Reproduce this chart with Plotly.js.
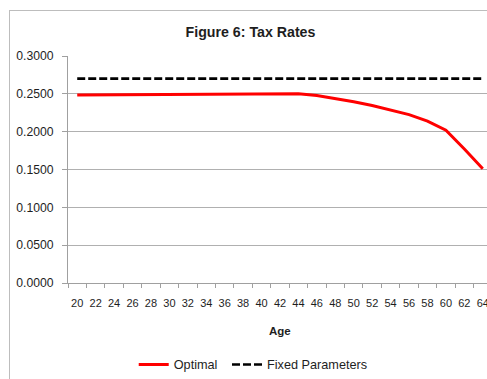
<!DOCTYPE html>
<html>
<head>
<meta charset="utf-8">
<script src="https://cdn.plot.ly/plotly-3.0.1.min.js"></script>
<style>
  html, body { margin: 0; padding: 0; background: #fff; overflow: hidden; width: 487px; height: 379px; }
  #chart {
    position: absolute; left: 9px; top: 10px;
    width: 500px; height: 390px;
    border: 1px solid #bdbdbd;
  }
</style>
</head>
<body>
<div id="chart"></div>
<script>
// Age categories (every second year)
const ages = ['20','22','24','26','28','30','32','34','36','38','40','42','44',
              '46','48','50','52','54','56','58','60','62','64'];

// Optimal tax rate by age
const optimal = [0.2485,0.2487,0.2489,0.2490,0.2492,0.2493,0.2494,0.2495,0.2496,
                 0.2497,0.2498,0.2499,0.2500,0.2478,0.2440,0.2395,0.2345,0.2290,
                 0.2225,0.2140,0.2020,0.1770,0.1510];

// Tax rate under fixed parameters
const fixedParams = [0.27,0.27,0.27,0.27,0.27,0.27,0.27,0.27,0.27,0.27,0.27,0.27,
                     0.27,0.27,0.27,0.27,0.27,0.27,0.27,0.27,0.27,0.27,0.27];

const FONT = '"Liberation Sans", Arial, sans-serif';
const TXT = '#1e1e1e';

const traces = [
  {
    x: ages, y: optimal, name: 'Optimal', type: 'scatter', mode: 'lines',
    line: { color: '#ff0000', width: 3 },
    legend: 'legend'
  },
  {
    x: ages, y: fixedParams, name: 'Fixed Parameters', type: 'scatter', mode: 'lines',
    line: { color: '#000000', width: 2.7, dash: '8px,3px' },
    legend: 'legend2'
  }
];

// shared legend styling; each series gets its own legend box
const legendStyle = {
  orientation: 'h', y: -0.36, yanchor: 'middle', xanchor: 'left',
  font: { family: FONT, size: 12.7, color: TXT },
  bgcolor: 'rgba(0,0,0,0)', itemwidth: 30
};

const layout = {
  width: 500, height: 390,
  margin: { l: 58, r: 18, t: 45, b: 118 },
  paper_bgcolor: '#ffffff', plot_bgcolor: '#ffffff',
  font: { family: FONT, color: TXT, size: 11 },
  title: {
    text: '<b>Figure 6: Tax Rates</b>',
    font: { family: FONT, size: 14.2, color: TXT },
    xref: 'container', x: 0.481, xanchor: 'center',
    yref: 'container', y: 0.947, yanchor: 'middle'
  },
  xaxis: {
    type: 'category',
    range: [-0.5, ages.length - 0.5],
    tickson: 'boundaries',
    tickangle: 0,
    ticks: 'outside', ticklen: 4, tickcolor: '#a0a0a0', tickwidth: 1,
    showgrid: false,
    showline: true, linecolor: '#a0a0a0', linewidth: 1,
    tickfont: { family: FONT, size: 11, color: TXT },
    ticklabelstandoff: 10,
    fixedrange: true
  },
  yaxis: {
    range: [0, 0.3],
    dtick: 0.05, tick0: 0,
    tickformat: '.4f',
    ticks: 'outside', ticklen: 5, tickcolor: '#a0a0a0', tickwidth: 1,
    showgrid: true, gridcolor: '#b0b0b0', gridwidth: 1,
    showline: true, linecolor: '#a0a0a0', linewidth: 1,
    zeroline: false,
    tickfont: { family: FONT, size: 12.2, color: TXT },
    ticklabelstandoff: 6,
    fixedrange: true
  },
  annotations: [
    {
      text: '<b>Age</b>', xref: 'paper', yref: 'paper',
      x: 0.5, y: -0.21, xanchor: 'center', yanchor: 'middle',
      showarrow: false, font: { family: FONT, size: 11.5, color: TXT }
    }
  ],
  showlegend: true,
  legend: Object.assign({}, legendStyle, { x: 0.155 }),
  legend2: Object.assign({}, legendStyle, { x: 0.375 })
};

Plotly.newPlot('chart', traces, layout, { displayModeBar: false, staticPlot: true });
</script>
</body>
</html>
